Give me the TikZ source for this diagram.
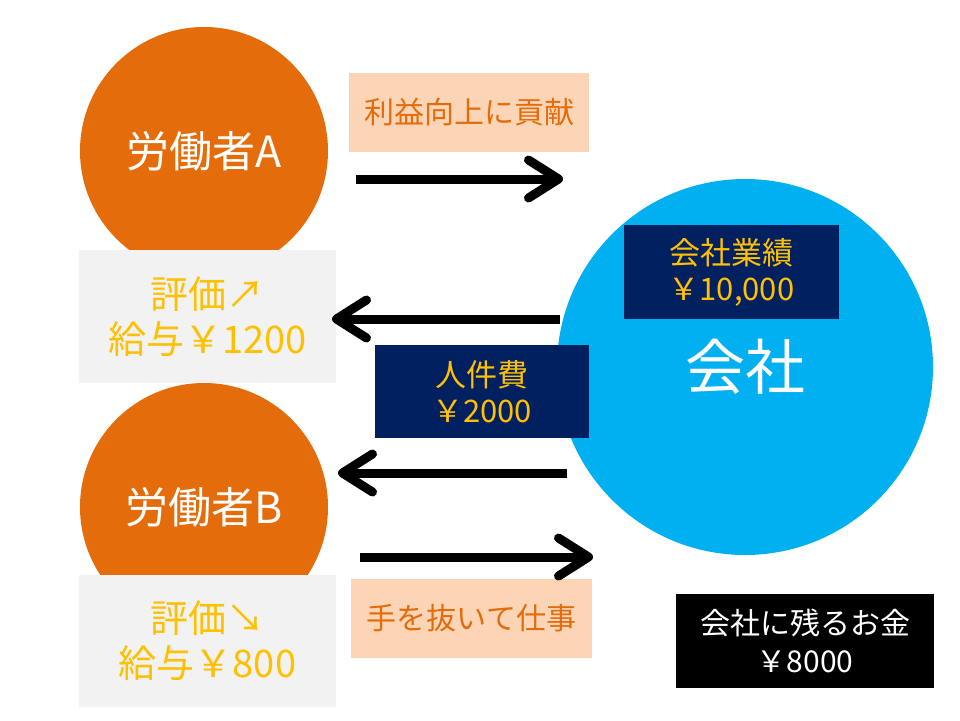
\documentclass[tikz,border=0pt]{standalone}
\usepackage{fontspec}
\setmainfont{Noto Sans CJK JP}
\usetikzlibrary{arrows.meta,positioning}
\definecolor{workerorange}{RGB}{228,108,10}
\definecolor{firmblue}{RGB}{0,176,240}
\definecolor{costnavy}{RGB}{0,32,96}
\definecolor{notepeach}{RGB}{251,213,181}
\definecolor{evalgray}{RGB}{242,242,242}
\definecolor{payyellow}{RGB}{255,192,0}
\begin{document}
\begin{tikzpicture}[
  x=1pt,y=-1pt,
  flow/.style={line width=9pt,-{Straight Barb[length=30pt,width=38pt,round]}},
  worker/.style={circle,fill=workerorange,minimum size=248pt,inner sep=0pt,text=white,
                 font=\fontsize{43}{48}\selectfont},
  firm/.style={circle,fill=firmblue,minimum size=376pt,inner sep=0pt,text=white,
               font=\fontsize{60}{64}\selectfont},
  evalbox/.style={fill=evalgray,minimum width=257pt,minimum height=133pt,inner sep=0pt,
                  align=center,text=payyellow,font=\fontsize{38}{45}\selectfont},
  note/.style={fill=notepeach,minimum width=240pt,minimum height=79pt,inner sep=0pt,
               text=workerorange,font=\fontsize{30}{34}\selectfont},
  money/.style={fill=costnavy,minimum width=214pt,minimum height=93pt,inner sep=0pt,
                align=center,text=payyellow,font=\fontsize{31}{36}\selectfont},
  rest/.style={fill=black,minimum width=258pt,minimum height=94pt,inner sep=0pt,
               align=center,text=white,font=\fontsize{30}{38}\selectfont}
]
\useasboundingbox[fill=white] (0,0) rectangle (960,720);
% ---------- workers
\node[worker] (wA) at (204,151) {労働者A};
\node[evalbox] (evA) at (207.5,316.5) {評価↗\\給与￥1200};
\node[worker] (wB) at (204,507) {労働者B};
\node[evalbox,minimum height=132pt] (evB) at (207.5,641) {評価↘\\給与￥800};
% ---------- company
\node[firm] (co) at (745,367) {会社};
\node[money,minimum width=215pt,minimum height=94pt] (sales) at (731.5,272) {会社業績\\￥10,000};
\node[money] (wage) at (482,391.5) {人件費\\￥2000};
\node[rest] (left) at (805,641) {会社に残るお金\\￥8000};
% ---------- notes
\node[note] (gain) at (469,112.5) {利益向上に貢献};
\node[note,minimum width=241pt] (slack) at (471.5,618.5) {手を抜いて仕事};
% ---------- arrows
\coordinate (a1s) at (356,179);  \coordinate (a1e) at (563,179);
\coordinate (a2s) at (560,319);  \coordinate (a2e) at (332,319);
\coordinate (a3s) at (567,473);  \coordinate (a3e) at (338,473);
\coordinate (a4s) at (360,557);  \coordinate (a4e) at (593,557);
\draw[flow] (a1s) -- (a1e);
\draw[flow] (a2s) -- (a2e);
\draw[flow] (a3s) -- (a3e);
\draw[flow] (a4s) -- (a4e);
\end{tikzpicture}
\end{document}
